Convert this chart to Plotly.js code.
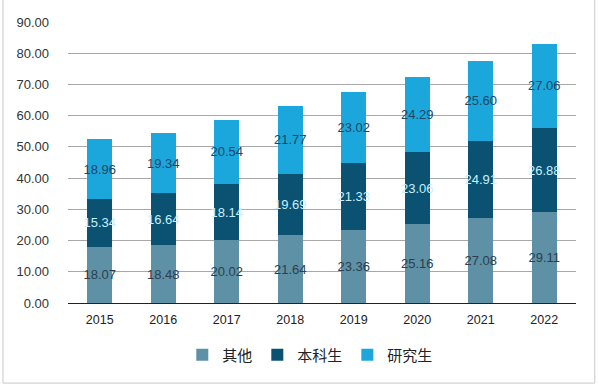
<!DOCTYPE html>
<html><head><meta charset="utf-8">
<script src="https://cdn.plot.ly/plotly-3.0.1.min.js"></script>
<style>html,body{margin:0;padding:0;background:#fff}</style>
</head><body>
<div id="chart" style="width:598px;height:388px"></div>
<script>
const years = ['2015','2016','2017','2018','2019','2020','2021','2022'];
const other = [18.07, 18.48, 20.02, 21.64, 23.36, 25.16, 27.08, 29.11];
const undergrad = [15.34, 16.64, 18.14, 19.69, 21.33, 23.06, 24.91, 26.88];
const graduate = [18.96, 19.34, 20.54, 21.77, 23.02, 24.29, 25.60, 27.06];
const yTicks = [0,10,20,30,40,50,60,70,80,90];

function mk(name, vals, color, txtColor){
  return {type:'bar', name:name, x:years, y:vals, marker:{color:color},
    text:vals.map(v=>v.toFixed(2)), textposition:'inside', insidetextanchor:'middle',
    textangle:0, constraintext:'none',
    textfont:{family:'Liberation Sans, Arial, sans-serif', size:13, color:txtColor},
    hoverinfo:'skip'};
}
const data = [
  mk('其他', other, '#5e91a6', '#2c3e4e'),
  mk('本科生', undergrad, '#0b5272', '#c6f0ff'),
  mk('研究生', graduate, '#1ba6dc', '#1d4666')
];
const layout = {
  width:598, height:388, barmode:'stack', bargap:0.6,
  margin:{l:68, r:22, t:22, b:85},
  paper_bgcolor:'#fff', plot_bgcolor:'#fff',
  font:{family:'Liberation Sans, Arial, sans-serif', color:'#333'},
  xaxis:{type:'category', showgrid:false, showline:false, zeroline:false,
    tickfont:{size:12.5, color:'#222'}, ticks:'', ticklabelstandoff:7},
  yaxis:{range:[0,90], tickvals:yTicks, ticktext:yTicks.map(v=>v.toFixed(2)),
    showgrid:true, gridcolor:'#a8a8a8', gridwidth:1, zeroline:true, zerolinecolor:'#222', zerolinewidth:1,
    showline:false, ticks:'', tickfont:{size:13, color:'#333'}, ticklabelstandoff:18, fixedrange:true},
  legend:{orientation:'h', x:0.225, xanchor:'left', y:-0.185, yanchor:'middle',
    font:{family:'Noto Sans CJK SC, sans-serif', size:15, color:'#222'}, itemwidth:30, traceorder:'normal'},
  showlegend:true,
  shapes:[{type:'rect', xref:'paper', yref:'paper', x0:-0.128, x1:1.037, y0:-0.285, y1:1.09,
    line:{color:'#c8c8c8', width:1}, fillcolor:'rgba(0,0,0,0)'}]
};
Plotly.newPlot('chart', data, layout, {displayModeBar:false, staticPlot:true});
</script>
</body></html>
